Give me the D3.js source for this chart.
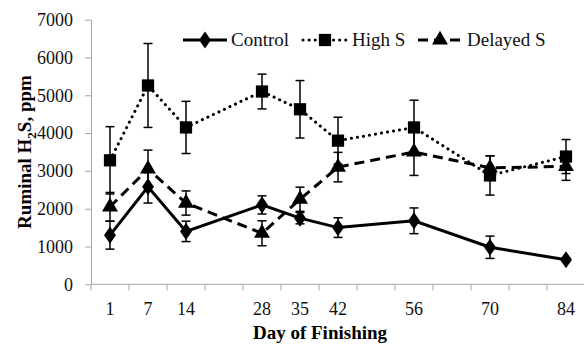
<!DOCTYPE html>
<html>
<head>
<meta charset="utf-8">
<script src="https://cdn.jsdelivr.net/npm/d3@7"></script>
<style>
  body { margin: 0; background: #fff; }
  svg, svg text { font-family: "Liberation Serif", "Times New Roman", serif; }
</style>
</head>
<body>
<div id="viz"></div>
<script>
const width = 584;
const height = 345;
const margin = {top: 19.7, left: 91, bottom: 60.7};
const slotWidth = 38;
const fontFamily = 'Liberation Serif';

// Category slots along the x axis (weekly), only some are labelled
const slots = ['1', '7', '14', '21', '28', '35', '42', '49', '56', '63', '70', '77', '84'];
const shownDays = ['1', '7', '14', '28', '35', '42', '56', '70', '84'];
const yTicks = [0, 1000, 2000, 3000, 4000, 5000, 6000, 7000];

// Ruminal H2S (ppm) and its error, one value per shown day
const controlValues = [1300, 2580, 1400, 2100, 1750, 1500, 1680, 980, 650];
const controlErrors = [370, 430, 270, 240, 150, 260, 340, 295, 40];
const highSValues = [3280, 5260, 4150, 5100, 4630, 3800, 4150, 2880, 3380];
const highSErrors = [890, 1110, 690, 460, 760, 620, 720, 520, 450];
const delayedSValues = [2050, 3050, 2150, 1350, 2250, 3100, 3500, 3080, 3120];
const delayedSErrors = [380, 500, 320, 330, 320, 390, 620, 320, 370];

const series = [
  {name: 'Control', values: controlValues, errors: controlErrors, dash: null, marker: 'diamond'},
  {name: 'High S', values: highSValues, errors: highSErrors, dash: '0.1,6', marker: 'square'},
  {name: 'Delayed S', values: delayedSValues, errors: delayedSErrors, dash: '10,6', marker: 'triangle'}
];

const svg = d3.select('#viz')
  .append('svg')
    .attr('width', width)
    .attr('height', height)
    .style('font-family', fontFamily);

// Scales
const xScale = d3.scaleBand()
  .domain(slots)
  .range([margin.left, margin.left + slots.length * slotWidth])
  .padding(0);
const xc = d => xScale(d) + xScale.bandwidth() / 2;

const yScale = d3.scaleLinear()
  .domain([0, 7000])
  .range([height - margin.bottom, margin.top]);

// Axes
const axisColor = '#a6a6a6';
const yAxis = d3.axisLeft(yScale)
  .tickValues(yTicks)
  .tickFormat(d3.format('d'))
  .tickSize(6)
  .tickPadding(12)
  .tickSizeOuter(0);
const yAxisGroup = svg.append('g')
    .attr('class', 'y-axis-group')
    .attr('transform', `translate(${margin.left}, 0)`)
  .call(yAxis);

const xAxis = d3.axisBottom(xScale)
  .tickFormat(d => shownDays.includes(d) ? d : '')
  .tickSize(0)
  .tickPadding(18)
  .tickSizeOuter(0);
const xAxisGroup = svg.append('g')
    .attr('class', 'x-axis-group')
    .attr('transform', `translate(0, ${yScale(0)})`)
  .call(xAxis);

// Excel style ticks sit between the categories
xAxisGroup.selectAll('.slot-tick')
  .data(d3.range(slots.length + 1))
  .join('line')
    .attr('class', 'slot-tick')
    .attr('x1', i => margin.left + i * slotWidth)
    .attr('x2', i => margin.left + i * slotWidth)
    .attr('y1', 0)
    .attr('y2', 6)
    .attr('stroke', axisColor);

[xAxisGroup, yAxisGroup].forEach(g => {
  g.attr('font-family', null).attr('font-size', null);
  g.selectAll('.domain, .tick line').attr('stroke', axisColor);
  g.selectAll('text')
    .attr('fill', '#111')
    .style('font-family', fontFamily)
    .style('font-size', '18px');
});
xAxisGroup.select('.domain').attr('d', `M${margin.left},0H${width + 2}`);

// Axis titles
svg.append('text')
    .attr('x', 320)
    .attr('y', 339)
    .attr('text-anchor', 'middle')
    .style('font-family', fontFamily)
    .style('font-size', '19px')
    .style('font-weight', 700)
    .text('Day of Finishing');

const yTitle = svg.append('text')
    .attr('transform', 'translate(31, 152) rotate(-90)')
    .attr('text-anchor', 'middle')
    .style('font-family', fontFamily)
    .style('font-size', '19px')
    .style('font-weight', 700);
yTitle.append('tspan').text('Ruminal H');
yTitle.append('tspan').attr('dy', 5).style('font-size', '13px').text('2');
yTitle.append('tspan').attr('dy', -5).text('S, ppm');

// Markers
const symbolFor = {
  diamond: d3.symbol().type(d3.symbolDiamond).size(85),
  square: d3.symbol().type(d3.symbolSquare).size(150),
  triangle: d3.symbol().type(d3.symbolTriangle).size(110)
};

const line = d3.line()
  .x(d => xc(d.day))
  .y(d => yScale(d.value));

series.forEach(s => {
  const points = shownDays.map((day, i) => ({day, value: s.values[i], err: s.errors[i]}));
  const g = svg.append('g').attr('class', 'series');

  // Error bars
  const bars = g.append('g')
    .attr('stroke', '#000')
    .attr('stroke-width', 1.5);
  bars.selectAll('line.bar')
    .data(points)
    .join('line')
      .attr('x1', d => xc(d.day))
      .attr('x2', d => xc(d.day))
      .attr('y1', d => yScale(d.value + d.err))
      .attr('y2', d => yScale(d.value - d.err));
  [1, -1].forEach(sign => {
    bars.append('g').selectAll('line')
      .data(points)
      .join('line')
        .attr('x1', d => xc(d.day) - 4.5)
        .attr('x2', d => xc(d.day) + 4.5)
        .attr('y1', d => yScale(d.value + sign * d.err))
        .attr('y2', d => yScale(d.value + sign * d.err));
  });

  g.append('path')
    .attr('d', line(points))
    .attr('fill', 'none')
    .attr('stroke', '#000')
    .attr('stroke-width', 3)
    .attr('stroke-linecap', s.dash === '0.1,6' ? 'round' : 'butt')
    .attr('stroke-dasharray', s.dash);

  g.selectAll('path.marker')
    .data(points)
    .join('path')
      .attr('class', 'marker')
      .attr('d', symbolFor[s.marker])
      .attr('transform', d => `translate(${xc(d.day)}, ${yScale(d.value)})` + (s.marker === 'diamond' ? ' scale(1.2,1)' : ''))
      .attr('fill', '#000');
});

// Legend
const legendItems = [
  {x: 183, textX: 231},
  {x: 303, textX: 352},
  {x: 418, textX: 467}
];
const legend = svg.append('g').attr('class', 'legend');
series.forEach((s, i) => {
  const it = legendItems[i];
  legend.append('line')
    .attr('x1', it.x)
    .attr('x2', it.x + 44)
    .attr('y1', 40)
    .attr('y2', 40)
    .attr('stroke', '#000')
    .attr('stroke-width', 3)
    .attr('stroke-linecap', s.dash === '0.1,6' ? 'round' : 'butt')
    .attr('stroke-dasharray', s.dash);
  legend.append('path')
    .attr('d', symbolFor[s.marker])
    .attr('transform', `translate(${it.x + 22}, 40)` + (s.marker === 'diamond' ? ' scale(1.2,1)' : ''))
    .attr('fill', '#000');
  legend.append('text')
    .attr('x', it.textX)
    .attr('y', 46)
    .style('font-family', fontFamily)
    .style('font-size', '19px')
    .attr('fill', '#111')
    .text(s.name);
});
</script>
</body>
</html>
